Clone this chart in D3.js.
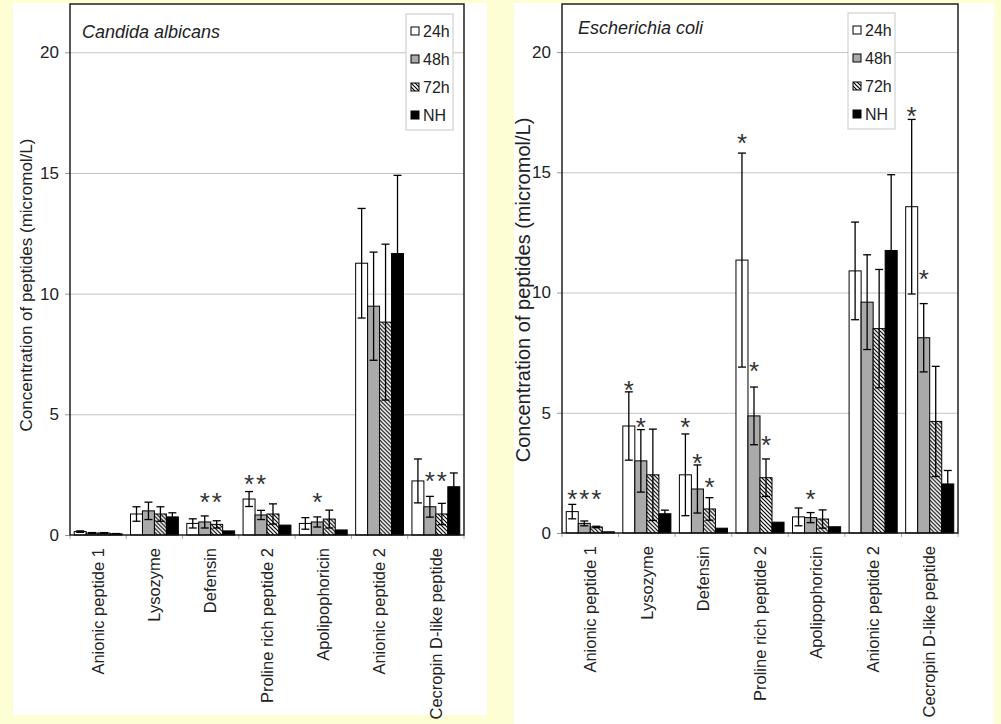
<!DOCTYPE html>
<html>
<head>
<meta charset="utf-8">
<script src="https://cdn.jsdelivr.net/npm/d3@7"></script>
<style>
  body { margin: 0; background: #fefed4; }
  svg { display: block; font-family: "Liberation Sans", Arial, sans-serif; }
</style>
</head>
<body>
<script>
var categories = ["Anionic peptide 1", "Lysozyme", "Defensin", "Proline rich peptide 2",
  "Apolipophoricin", "Anionic peptide 2", "Cecropin D-like peptide"];
var seriesNames = ["24h", "48h", "72h", "NH"];
var yTicks = [0, 5, 10, 15, 20];

// means per category: [24h, 48h, 72h, NH]
var candidaMeans = [
  [0.14, 0.08, 0.08, 0.05],
  [0.87, 1.0, 0.87, 0.75],
  [0.48, 0.54, 0.44, 0.17],
  [1.49, 0.83, 0.87, 0.41],
  [0.48, 0.54, 0.66, 0.21],
  [11.26, 9.48, 8.82, 11.66],
  [2.24, 1.17, 0.87, 2.0]
];
var candidaErr = [
  [0.03, 0.02, 0.02, 0.01],
  [0.3, 0.36, 0.3, 0.17],
  [0.19, 0.25, 0.15, 0],
  [0.31, 0.19, 0.42, 0],
  [0.24, 0.21, 0.37, 0],
  [2.27, 2.24, 3.23, 3.24],
  [0.91, 0.43, 0.44, 0.57]
];
// [category, series, height of the asterisk]
var candidaStars = [
  [2, 1, 1.61], [2, 2, 1.61],
  [3, 0, 2.37], [3, 1, 2.37],
  [4, 1, 1.61],
  [6, 1, 2.48], [6, 2, 2.48]
];

var coliMeans = [
  [0.89, 0.4, 0.25, 0.05],
  [4.45, 3.0, 2.42, 0.8],
  [2.42, 1.83, 1.0, 0.2],
  [11.35, 4.87, 2.3, 0.45],
  [0.67, 0.64, 0.58, 0.26],
  [10.9, 9.6, 8.5, 11.75],
  [13.57, 8.12, 4.64, 2.04]
];
var coliErr = [
  [0.3, 0.1, 0.03, 0],
  [1.42, 1.3, 1.9, 0.15],
  [1.7, 1.0, 0.47, 0],
  [4.45, 1.2, 0.78, 0],
  [0.37, 0.21, 0.38, 0],
  [2.03, 1.97, 2.46, 3.15],
  [3.63, 1.42, 2.29, 0.56]
];
var coliStars = [
  [0, 0, 1.67], [0, 1, 1.67], [0, 2, 1.67],
  [1, 0, 6.2], [1, 1, 4.68],
  [2, 0, 4.68], [2, 1, 3.17], [2, 2, 2.18],
  [3, 0, 16.46], [3, 1, 7.0], [3, 2, 3.92],
  [4, 1, 1.68],
  [6, 0, 17.6], [6, 1, 10.8]
];

var fills = ["#ffffff", "#aaaaaa", "url(#hatch)", "#000000"];

var svg = d3.select("body").append("svg")
  .attr("width", 1001)
  .attr("height", 724);

var hatch = svg.append("defs").append("pattern")
  .attr("id", "hatch")
  .attr("patternUnits", "userSpaceOnUse")
  .attr("width", 4)
  .attr("height", 4);
hatch.append("rect").attr("width", 4).attr("height", 4).attr("fill", "#fff");
hatch.append("path")
  .attr("d", "M-1,-1 L5,5 M-1,3 L1,5 M3,-1 L5,1")
  .attr("stroke", "#000")
  .attr("stroke-width", 1.2);

function drawPanel(p) {
  svg.append("rect")
    .attr("x", p.bg[0]).attr("y", p.bg[1])
    .attr("width", p.bg[2]).attr("height", p.bg[3])
    .attr("fill", "#fff");

  var g = svg.append("g").attr("transform", "translate(" + p.x + "," + p.y + ")");

  var x0 = d3.scaleBand().domain(categories).range([0, p.w])
    .paddingInner(0.15).paddingOuter(0.075);
  var x1 = d3.scaleBand().domain(seriesNames).range([0, x0.bandwidth()]);
  var y = d3.scaleLinear().domain([0, 22]).range([p.h, 0]);

  // grid
  g.append("g")
    .call(d3.axisLeft(y).tickValues(yTicks.slice(1)).tickSize(-p.w).tickFormat(""))
    .call(function(a) { a.select(".domain").remove(); })
    .selectAll("line").attr("stroke", "#c4c4c4");

  g.append("g")
    .call(d3.axisLeft(y).tickValues(yTicks).tickSize(5).tickPadding(6))
    .call(function(a) { a.select(".domain").remove(); })
    .call(function(a) {
      a.selectAll("line").attr("stroke", "#999");
      a.selectAll("text").attr("font-size", 17).attr("fill", "#222");
    });

  var step = x0.step();
  g.selectAll(".xtick").data(d3.range(categories.length + 1)).enter().append("line")
    .attr("x1", function(i) { return i * step; })
    .attr("x2", function(i) { return i * step; })
    .attr("y1", p.h).attr("y2", p.h + 4)
    .attr("stroke", "#aaa");

  var xa = g.append("g")
    .attr("transform", "translate(0," + p.h + ")")
    .call(d3.axisBottom(x0).tickSize(0));
  xa.select(".domain").remove();
  xa.selectAll("text")
    .attr("transform", "rotate(-90)")
    .attr("text-anchor", "end")
    .attr("x", -13).attr("y", 0).attr("dy", "0.35em")
    .attr("font-size", 16.5).attr("fill", "#222");

  var groups = g.selectAll(".grp").data(p.means).enter().append("g")
    .attr("transform", function(d, i) { return "translate(" + x0(categories[i]) + ",0)"; });

  groups.selectAll("rect").data(function(d) { return d; }).enter().append("rect")
    .attr("x", function(d, j) { return x1(seriesNames[j]); })
    .attr("y", function(d) { return y(d); })
    .attr("width", x1.bandwidth())
    .attr("height", function(d) { return p.h - y(d); })
    .attr("fill", function(d, j) { return fills[j]; })
    .attr("stroke", "#000")
    .attr("stroke-width", 1);

  var errs = [];
  p.means.forEach(function(row, i) {
    row.forEach(function(m, j) {
      if (p.err[i][j] > 0) errs.push({ i: i, j: j, lo: m - p.err[i][j], hi: m + p.err[i][j] });
    });
  });
  var cap = 4;
  var eb = g.selectAll(".err").data(errs).enter().append("g")
    .attr("transform", function(d) {
      return "translate(" + (x0(categories[d.i]) + x1(seriesNames[d.j]) + x1.bandwidth() / 2) + ",0)";
    })
    .attr("stroke", "#000").attr("stroke-width", 1.3);
  eb.append("line").attr("y1", function(d) { return y(d.lo); }).attr("y2", function(d) { return y(d.hi); });
  eb.append("line").attr("x1", -cap).attr("x2", cap)
    .attr("y1", function(d) { return y(d.hi); }).attr("y2", function(d) { return y(d.hi); });
  eb.append("line").attr("x1", -cap).attr("x2", cap)
    .attr("y1", function(d) { return y(d.lo); }).attr("y2", function(d) { return y(d.lo); });

  g.selectAll(".star").data(p.stars).enter().append("text")
    .attr("x", function(d) { return x0(categories[d[0]]) + x1(seriesNames[d[1]]) + x1.bandwidth() / 2; })
    .attr("y", function(d) { return y(d[2]); })
    .attr("dy", "0.58em")
    .attr("text-anchor", "middle")
    .attr("font-size", 26)
    .attr("fill", "#333")
    .text("*");

  // frame
  g.append("rect")
    .attr("width", p.w).attr("height", p.h)
    .attr("fill", "none").attr("stroke", "#111").attr("stroke-width", 1.4);

  g.append("text")
    .attr("x", p.titleX).attr("y", p.titleY)
    .attr("font-size", 18).attr("font-style", "italic").attr("fill", "#222")
    .text(p.title);

  // legend
  var lg = svg.append("g").attr("transform", "translate(" + p.lx + "," + p.ly + ")");
  lg.append("rect").attr("width", 47).attr("height", 116)
    .attr("fill", "#fff").attr("stroke", "#c8c8c8");
  var items = lg.selectAll(".item").data(seriesNames).enter().append("g")
    .attr("transform", function(d, j) { return "translate(5," + (17 + j * 28) + ")"; });
  items.append("rect").attr("y", -4).attr("width", 8).attr("height", 8)
    .attr("fill", function(d, j) { return fills[j]; })
    .attr("stroke", "#000");
  items.append("text").attr("x", 12).attr("dy", "0.36em")
    .attr("font-size", 16).attr("fill", "#222")
    .text(function(d) { return d; });

  svg.append("text")
    .attr("transform", "translate(" + p.ytx + "," + p.yty + ") rotate(-90)")
    .attr("text-anchor", "middle")
    .attr("font-size", p.ytSize).attr("fill", "#222")
    .text("Concentration of peptides (micromol/L)");
}

drawPanel({
  bg: [13, 3, 474, 712], x: 70, y: 4, w: 394, h: 531,
  means: candidaMeans, err: candidaErr, stars: candidaStars,
  title: "Candida albicans", titleX: 12, titleY: 34,
  lx: 406, ly: 14, ytx: 32, yty: 285, ytSize: 17
});
drawPanel({
  bg: [514, 3, 480, 721], x: 562, y: 4, w: 396, h: 529,
  means: coliMeans, err: coliErr, stars: coliStars,
  title: "Escherichia coli", titleX: 16, titleY: 30,
  lx: 848, ly: 13, ytx: 530, yty: 290, ytSize: 20
});
</script>
</body>
</html>
